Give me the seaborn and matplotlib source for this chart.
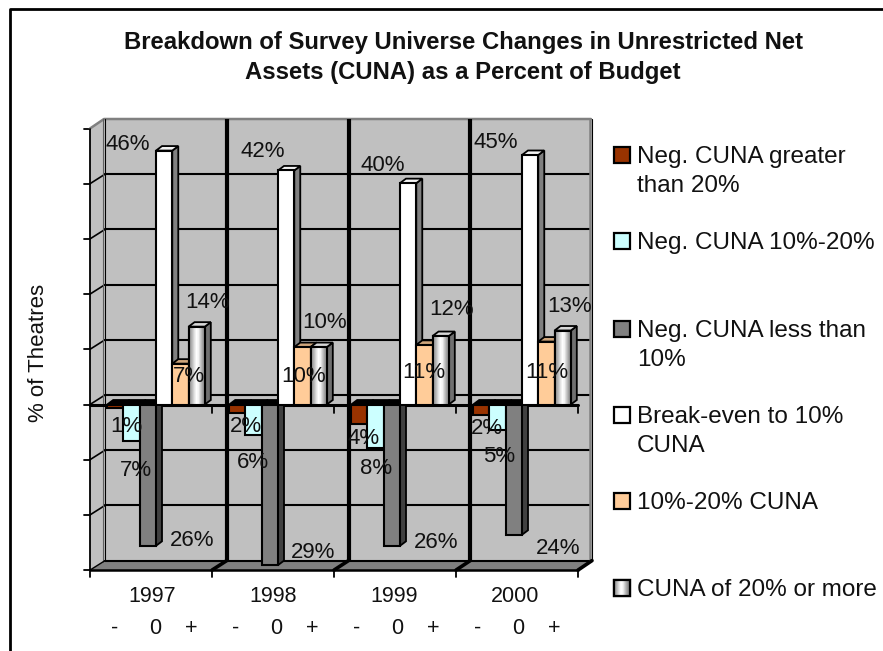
# Recreating the CUNA survey chart with a seaborn bar plot and drawn 3D faces
import numpy as np
import pandas as pd
import seaborn as sns
import matplotlib.pyplot as plt
from matplotlib.patches import Polygon, Rectangle

years = ['1997', '1998', '1999', '2000']
series = ['Neg. CUNA greater than 20%', 'Neg. CUNA 10%-20%', 'Neg. CUNA less than 10%',
          'Break-even to 10% CUNA', '10%-20% CUNA', 'CUNA of 20% or more']
neg_over_20 = [-0.6, -1.5, -3.6, -1.9]
neg_10_20 = [-6.6, -5.6, -7.9, -4.6]
neg_under_10 = [-25.6, -29.1, -25.6, -23.6]
break_even = [46.0, 42.4, 40.1, 45.2]
pos_10_20 = [7.4, 10.4, 10.8, 11.4]
pos_over_20 = [14.1, 10.4, 12.4, 13.4]
all_values = [neg_over_20, neg_10_20, neg_under_10, break_even, pos_10_20, pos_over_20]

legend_lines = [['Neg. CUNA greater', 'than 20%'], ['Neg. CUNA 10%-20%'], ['Neg. CUNA less than', '10%'],
                ['Break-even to 10%', 'CUNA'], ['10%-20% CUNA'], ['CUNA of 20% or more']]
colors = ['#993300', '#CCFFFF', '#808080', '#FFFFFF', '#FFCC99', '#C0C0C0']
side_colors = ['#404040', '#404040', '#404040', '#808080', '#A08060', '#707070']
top_colors = ['#000000', '#000000', '#000000', '#F2F2F2', '#CFA67C', '#D8D8D8']
shine = [0.6, 0.72, 0.88, 1.0, 0.95, 0.78, 0.62, 0.52]

# label centres in pixels, one row per series, one column per year
label_x = [[126, 246, 364, 487], [136, 253, 376, 499], [192, 313, 436, 558],
           [128, 263, 383, 496], [189, 304, 424, 547], [208, 325, 452, 570]]
label_y = [[426, 426, 438, 428], [470, 462, 468, 456], [540, 553, 543, 548],
           [145, 152, 166, 143], [377, 377, 373, 372], [303, 323, 309, 306]]

W, H = 883, 651
grid_levels = np.arange(-30, 60, 10)
scale = 5.52
depth_x, depth_y = 15, 10


def front_y(v):
    return 404.5 - scale * v


def back_y(v):
    return 395 - scale * v


sns.set_theme(style='white')
plt.rcParams['font.family'] = ['Liberation Sans', 'DejaVu Sans']

df = pd.DataFrame({
    'year': np.tile(years, len(series)),
    'series': np.repeat(series, len(years)),
    'value': np.concatenate(all_values),
})

fig = plt.figure(figsize=(W / 100, H / 100), dpi=100, facecolor='white')

# background layer in pixel coordinates: frame, walls, floor and grid
bg = fig.add_axes([0, 0, 1, 1], zorder=0)
bg.set_xlim(0, W)
bg.set_ylim(H, 0)
bg.axis('off')

bg.plot([10, 10, W], [H, 9, 9], color='black', lw=2)

left, right = 90, 578
wall_top, wall_bottom = back_y(grid_levels[-1]), back_y(grid_levels[0])
bg.add_patch(Polygon([(left + depth_x, wall_top), (right + 13, wall_top), (right + 13, wall_bottom),
                      (left + depth_x, wall_bottom)], color='#C0C0C0', lw=0))
bg.add_patch(Polygon([(left, front_y(50)), (left + depth_x, wall_top), (left + depth_x, wall_bottom),
                      (left, front_y(-30))], color='#C0C0C0', lw=0))
bg.add_patch(Polygon([(left, front_y(-30)), (left + depth_x, wall_bottom), (right + 13, wall_bottom),
                      (right, front_y(-30))], color='#808080', lw=0))

for v in grid_levels[:-1]:
    bg.plot([left + depth_x, right + 12], [back_y(v), back_y(v)], color='black', lw=1.5)
for v in grid_levels[1:-1]:
    bg.plot([left, left + depth_x], [front_y(v), back_y(v)], color='black', lw=1.2)
for v in grid_levels:
    bg.plot([left - 6, left], [front_y(v), front_y(v)], color='black', lw=1.3)

bg.plot([left, left + depth_x - 1, right + 13], [front_y(50), wall_top, wall_top], color='#808080', lw=1.8)
bg.plot([right + 11.5, right + 11.5], [wall_top, wall_bottom], color='#808080', lw=1.8)
bg.plot([right + 13.5, right + 13.5], [wall_top, wall_bottom], color='black', lw=0.8)
bg.plot([left + 13, left + 13], [wall_top, wall_bottom + 1], color='#606060', lw=0.8)
bg.plot([left + depth_x, left + depth_x], [wall_top, wall_bottom], color='black', lw=0.8)
bg.plot([left, left], [front_y(50), front_y(-30)], color='black', lw=1.3)

# thick category dividers on the back wall, running on over the floor
cat_width = (right - left) / len(years)
for i in range(1, len(years) + 1):
    xb = left + depth_x + (cat_width - 0.25) * i
    xf = left + cat_width * i
    if i < len(years):
        bg.plot([xb, xb], [wall_top, wall_bottom], color='black', lw=3, solid_capstyle='butt')
    bg.plot([xb, xf], [wall_bottom, front_y(-30)], color='black', lw=2.6)
bg.plot([left, left + depth_x], [front_y(-30), wall_bottom], color='black', lw=1)

# front axis lines with ticks
bg.plot([left, right], [front_y(0), front_y(0)], color='black', lw=2.2)
bg.plot([left, right], [front_y(-30), front_y(-30)], color='black', lw=1.8)
for i in range(len(years) + 1):
    xt = left + cat_width * i
    bg.plot([xt, xt], [front_y(-30), front_y(-30) + 7], color='black', lw=1.3)
    if i > 0:
        bg.plot([xt, xt], [front_y(0), front_y(0) + 8], color='black', lw=1.3)

# the bars themselves
ax = fig.add_axes([95 / W, (H - front_y(-30)) / H, (right - left) / W, 80 * scale / H], zorder=1)
sns.barplot(data=df, x='year', y='value', hue='series', hue_order=series, order=years,
            palette=colors, saturation=1, width=0.8, gap=0, edgecolor='black', linewidth=1.5,
            legend=False, ax=ax)
ax.set_xlim(-0.5, 3.5)
ax.set_ylim(-30, 50)
ax.patch.set_alpha(0)
ax.axis('off')

dx = 6 / cat_width
dy = 4.5 / scale
bars = [p for p in ax.patches if p.get_width() > 0]
for n, bar in enumerate(bars):
    s = n // len(years)
    x0, x1 = bar.get_x(), bar.get_x() + bar.get_width()
    y0, y1 = sorted([bar.get_y(), bar.get_y() + bar.get_height()])
    z = 3 + s
    bar.set_zorder(z + 0.5)
    ax.add_patch(Polygon([(x1, y0), (x1 + dx, y0 + dy), (x1 + dx, y1 + dy), (x1, y1)],
                         facecolor=side_colors[s], edgecolor='black', lw=1.3, zorder=z))
    ax.add_patch(Polygon([(x0, y1), (x0 + dx, y1 + dy), (x1 + dx, y1 + dy), (x1, y1)],
                         facecolor=top_colors[s], edgecolor='black', lw=1.3, zorder=z))
    if s == len(series) - 1:
        ax.imshow([shine], extent=(x0, x1, y0, y1), aspect='auto', cmap='gray', vmin=0, vmax=1,
                  interpolation='bilinear', zorder=z + 0.6)
        ax.add_patch(Rectangle((x0, y0), x1 - x0, y1 - y0, fill=False, edgecolor='black', lw=1.5,
                               zorder=z + 0.7))
ax.set_xlim(-0.5, 3.5)
ax.set_ylim(-30, 50)


def px_text(x, y, s, va='center', **kw):
    fig.text(x / W, 1 - y / H, s, ha=kw.pop('ha', 'center'), va=va, color='#111111', **kw)


# data labels
for s, vals in enumerate(all_values):
    for i, v in enumerate(vals):
        px_text(label_x[s][i], label_y[s][i], f'{abs(v):.0f}%', fontsize=16)

# titles and axis text
px_text(463, 49, 'Breakdown of Survey Universe Changes in Unrestricted Net', va='baseline', fontsize=17.2, fontweight='bold')
px_text(463, 79, 'Assets (CUNA) as a Percent of Budget', va='baseline', fontsize=17.2, fontweight='bold')
px_text(38, 353, '% of Theatres', fontsize=16, rotation=90)

for i, year in enumerate(years):
    px_text(152 + 121 * i, 597, year, fontsize=15.5)
    for off, mark in zip([-37, 3, 39], ['-', '0', '+']):
        px_text(152 + 121 * i + off, 628, mark, fontsize=15.5)

# hand placed legend, the entries are not evenly spaced in the original
swatch_y = [155, 241, 329, 415, 501, 588]
for s, lines in enumerate(legend_lines):
    y = swatch_y[s]
    bg.add_patch(Rectangle((614, y - 8), 16, 16, facecolor=colors[s], edgecolor='black', lw=1.6))
    if s == len(series) - 1:
        bg.imshow([shine], extent=(614, 630, y + 8, y - 8), aspect='auto', cmap='gray', vmin=0, vmax=1,
                  interpolation='bilinear', zorder=3)
        bg.add_patch(Rectangle((614, y - 8), 16, 16, fill=False, edgecolor='black', lw=1.6, zorder=4))
    for k, line in enumerate(lines):
        px_text(637, y + 8 + k * 29.5, line, va='baseline', fontsize=17.5, ha='left')
bg.set_xlim(0, W)
bg.set_ylim(H, 0)

plt.savefig('out.png', dpi=100)
